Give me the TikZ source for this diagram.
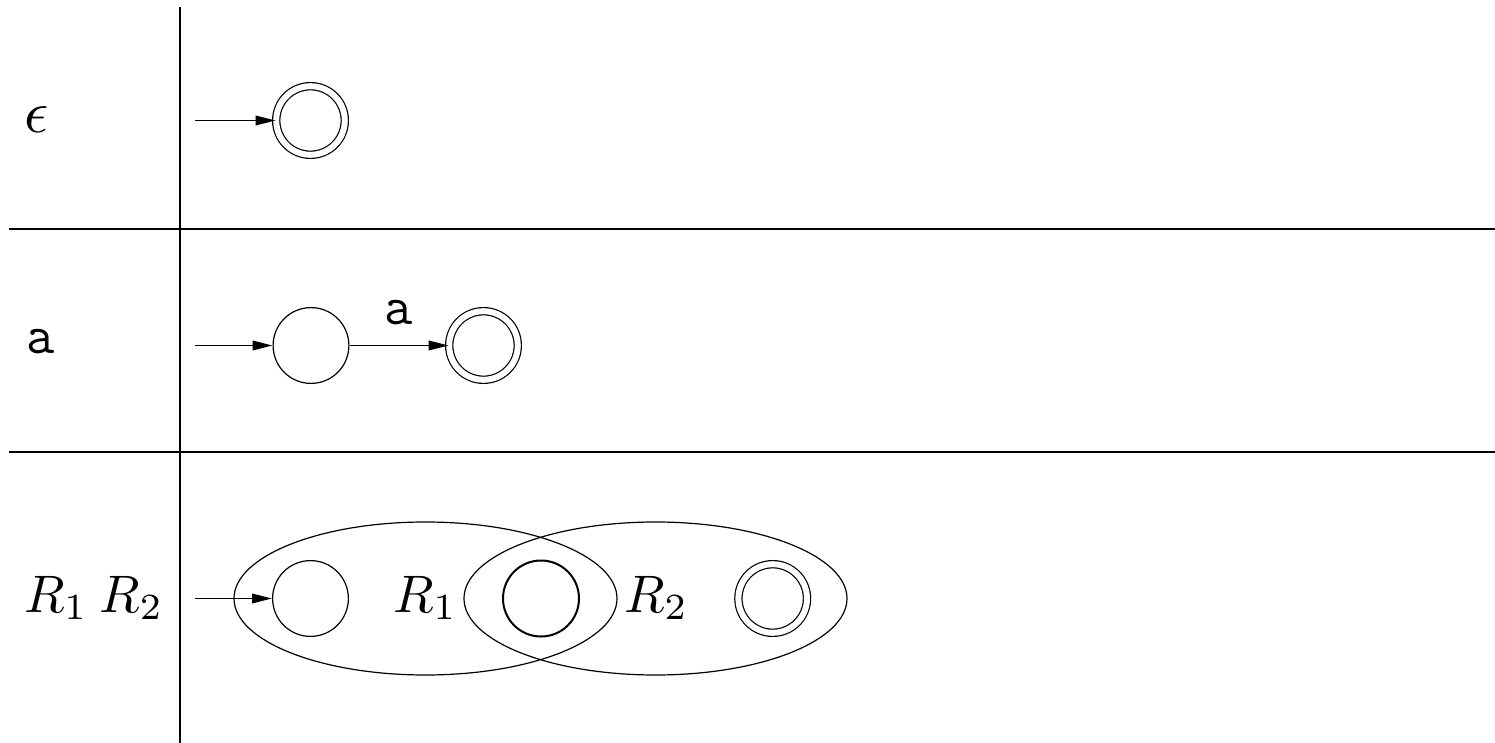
\documentclass[tikz,border=0pt]{standalone}
\usetikzlibrary{arrows.meta}
\begin{document}
\begin{tikzpicture}[x=0.5pt,y=-0.5pt,
  state/.style={circle,draw,line width=0.6pt,inner sep=0pt,minimum size=37.9pt},
  final/.style={circle,draw,line width=0.6pt,double,double distance=3pt,inner sep=0pt,minimum size=34.3pt},
  joint/.style={circle,draw,line width=1pt,inner sep=0pt,minimum size=38pt},
  trans/.style={line width=0.85pt,-{Triangle[length=10pt,width=4.8pt]}},
  rule/.style={line width=1.15pt},
  box/.style={line width=0.6pt},
  mathlbl/.style={inner sep=0pt,font=\fontsize{10}{12}\selectfont,scale=2.64},
  eps/.style={inner sep=0pt,font=\fontsize{10}{12}\selectfont,scale=3.0},
  ttlbl/.style={inner sep=0pt,font=\fontsize{27.5}{32}\selectfont\ttfamily}
]
\useasboundingbox (0,0) rectangle (1495,743);

% table rules
\draw[rule] (180,7) -- (180,743);
\draw[rule] (9,229) -- (1495,229);
\draw[rule] (9,452) -- (1495,452);

% row 1: epsilon
\node[eps] (leps) at (36.5,120) {$\epsilon$};
\coordinate (s1) at (195,120.5);
\node[final] (e0) at (310.5,120.5) {};
\draw[trans] (s1) -- (e0);

% row 2: single symbol
\node[ttlbl,anchor=base] (la) at (41,354) {a};
\coordinate (s2) at (195,345.5);
\node[state] (a0) at (311,345.5) {};
\node[final] (a1) at (483.5,345.5) {};
\draw[trans] (s2) -- (a0);
\draw[trans] (a0) -- node[ttlbl,above,yshift=10pt] (alab) {a} (a1);

% row 3: concatenation
\node[mathlbl,anchor=base] (lcat) at (94,612) {$R_1\mskip4mu R_2$};
\coordinate (e1c) at (425.5,598.5);
\coordinate (e2c) at (655.5,598.5);
\draw[box] (e1c) ellipse [x radius=191.5, y radius=76.5];
\draw[box] (e2c) ellipse [x radius=191.5, y radius=76.5];
\node[mathlbl,anchor=base] (r1) at (425.5,612) {$R_1$};
\node[mathlbl,anchor=base] (r2) at (656.5,612) {$R_2$};
\coordinate (s3) at (195,598.5);
\node[state] (c0) at (310.5,598.5) {};
\node[joint] (c1) at (541,598.5) {};
\node[final] (c2) at (772.7,598.5) {};
\draw[trans] (s3) -- (c0);
\end{tikzpicture}
\end{document}
